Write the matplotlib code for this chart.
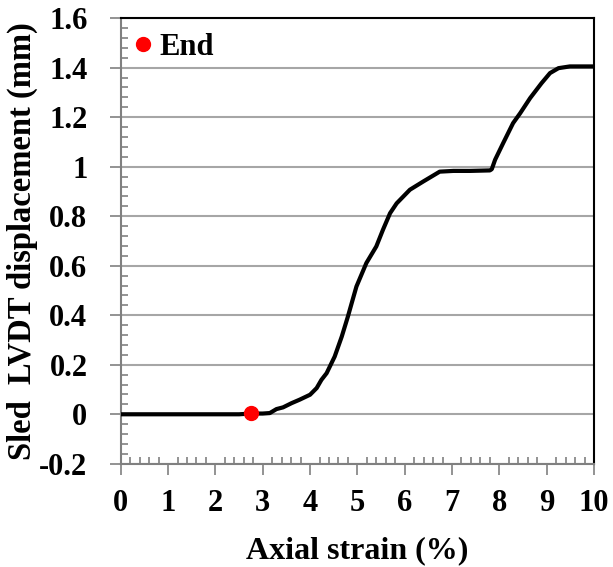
import matplotlib
matplotlib.use("Agg")
import matplotlib.pyplot as plt
from matplotlib.ticker import MultipleLocator

strain = [0.0, 0.5, 1.0, 1.5, 2.0, 2.5, 2.75, 3.0, 3.15, 3.29, 3.43, 3.61, 3.78, 4.0, 4.14, 4.24,
          4.35, 4.52, 4.67, 4.80, 4.88, 4.98, 5.19, 5.40, 5.54, 5.69, 5.83, 6.11, 6.39, 6.74,
          7.03, 7.38, 7.80, 7.84, 7.91, 8.08, 8.29, 8.44, 8.65, 8.89, 9.07, 9.25, 9.49, 10.0]
disp = [0.0, 0.0, 0.0, 0.0, 0.0, 0.0, 0.003, 0.003, 0.005, 0.021, 0.028, 0.045, 0.059, 0.079, 0.106, 0.139,
        0.166, 0.233, 0.314, 0.395, 0.449, 0.516, 0.611, 0.678, 0.745, 0.812, 0.852, 0.907, 0.940, 0.980,
        0.983, 0.983, 0.985, 0.990, 1.028, 1.095, 1.176, 1.216, 1.277, 1.337, 1.378, 1.398, 1.405, 1.405]
end_x = [2.75]
end_y = [0.005]

xlabel = "Axial strain (%)"
ylabel = "Sled  LVDT displacement (mm)"

plt.rcParams['font.family'] = ['Liberation Serif', 'DejaVu Serif']
plt.rcParams['font.weight'] = 'bold'

fig = plt.figure(figsize=(6.13, 5.67), dpi=100)
ax = fig.add_axes([0.197, 0.182, 0.772, 0.786])

ax.plot(strain, disp, color='black', lw=3, zorder=3, solid_joinstyle='round', solid_capstyle='round')
ax.plot(end_x, end_y, 'o', color='#ff0000', markersize=10, zorder=4, label='End', linestyle='none')

ax.set_xlim(0, 10)
ax.set_ylim(-0.2, 1.6)
ax.xaxis.set_major_locator(MultipleLocator(1))
ax.xaxis.set_minor_locator(MultipleLocator(0.2))
ax.yaxis.set_major_locator(MultipleLocator(0.2))
ax.yaxis.set_minor_locator(MultipleLocator(0.04))

def yfmt(v, p):
    s = f"{v:.1f}"
    if s in ("0.0", "-0.0"):
        return "0"
    if s == "1.0":
        return "1"
    return s
ax.yaxis.set_major_formatter(plt.FuncFormatter(yfmt))

ax.grid(axis='y', which='major', color='#a6a6a6', lw=1.5, zorder=1)
ax.set_axisbelow(True)

for side in ('left', 'bottom'):
    ax.spines[side].set_color('#808080')
    ax.spines[side].set_linewidth(1.5)
for side in ('top', 'right'):
    ax.spines[side].set_color('black')
    ax.spines[side].set_linewidth(1.5)

ax.tick_params(which='major', direction='out', length=8, width=1.2, color='#808080',
               labelsize=22)
ax.tick_params(axis='y', which='major', pad=16)
ax.tick_params(axis='x', which='major', pad=10)
ax.tick_params(which='minor', direction='in', length=5, width=1.2, color='#808080')
for lab in ax.get_xticklabels() + ax.get_yticklabels():
    lab.set_fontweight('bold')

ax.set_xlabel(xlabel, fontsize=23, fontweight='bold', labelpad=13)
ax.set_ylabel(ylabel, fontsize=23.5, fontweight='bold', labelpad=1)

leg = ax.legend(loc='upper left', bbox_to_anchor=(0, 0.989), frameon=False, handletextpad=0.15,
                borderaxespad=0.0, borderpad=0.32, handlelength=0.8,
                prop={'weight': 'bold', 'size': 22})

fig.savefig('out.png', dpi=100)
